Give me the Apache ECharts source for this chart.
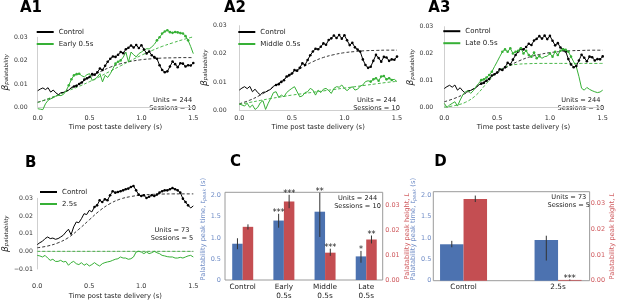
<!DOCTYPE html>
<html>
<head>
<meta charset="utf-8">
<script src="https://cdn.jsdelivr.net/npm/echarts@6/dist/echarts.min.js"></script>
<style>
  html, body { margin: 0; padding: 0; background: #fff; }
  #chart { width: 617px; height: 301px; }
</style>
</head>
<body>
<div id="chart"></div>
<script>
// time points of the beta traces (s)
const time = [0, 0.025, 0.05, 0.075, 0.1, 0.125, 0.15, 0.175, 0.2, 0.225, 0.25, 0.275, 0.3, 0.325, 0.35, 0.375,
  0.4, 0.425, 0.45, 0.475, 0.5, 0.525, 0.55, 0.575, 0.6, 0.625, 0.65, 0.675, 0.7, 0.725, 0.75, 0.775,
  0.8, 0.825, 0.85, 0.875, 0.9, 0.925, 0.95, 0.975, 1.0, 1.025, 1.05, 1.075, 1.1, 1.125, 1.15, 1.175,
  1.2, 1.225, 1.25, 1.275, 1.3, 1.325, 1.35, 1.375, 1.4, 1.425, 1.45, 1.475, 1.5]
const fitTime = [0, 0.1, 0.2, 0.3, 0.4, 0.5, 0.6, 0.7, 0.8, 0.9, 1.0, 1.1, 1.2, 1.3, 1.4, 1.5]

const controlA = [0.0071, 0.0078, 0.0083, 0.0076, 0.0084, 0.0065, 0.0074, 0.0062, 0.0054, 0.0063, 0.0064, 0.0069, 0.0074, 0.0085, 0.0089, 0.0092,
  0.0100, 0.0106, 0.0119, 0.0124, 0.0130, 0.0142, 0.0140, 0.0150, 0.0166, 0.0160, 0.0178, 0.0195, 0.0208, 0.0218, 0.0216, 0.0225,
  0.0237, 0.0232, 0.0249, 0.0255, 0.0265, 0.0256, 0.0267, 0.0254, 0.0266, 0.0248, 0.0231, 0.0239, 0.0223, 0.0215, 0.0208, 0.0180,
  0.0160, 0.0150, 0.0154, 0.0175, 0.0196, 0.0185, 0.0172, 0.0189, 0.0187, 0.0175, 0.0180, 0.0179, 0.0190]
const early = [-0.0006, -0.0008, -0.0010, 0.0015, 0.0030, 0.0036, 0.0041, 0.0048, 0.0051, 0.0050, 0.0056, 0.0072, 0.0094, 0.0120, 0.0137, 0.0142,
  0.0144, 0.0135, 0.0130, 0.0140, 0.0144, 0.0116, 0.0119, 0.0130, 0.0144, 0.0109, 0.0137, 0.0128, 0.0144, 0.0165, 0.0187, 0.0195,
  0.0201, 0.0215, 0.0237, 0.0194, 0.0237, 0.0225, 0.0216, 0.0230, 0.0237, 0.0245, 0.0251, 0.0250, 0.0259, 0.0270, 0.0287, 0.0300,
  0.0316, 0.0325, 0.0330, 0.0322, 0.0319, 0.0323, 0.0321, 0.0318, 0.0316, 0.0305, 0.0287, 0.0260, 0.0230]
const middle = [0.0021, 0.0018, 0.0014, 0.0024, 0.0009, 0.0018, 0.0002, 0.0009, 0.0026, 0.0033, 0.0002, 0.0024, 0.0042, 0.0062, 0.0065, 0.0045,
  0.0053, 0.0047, 0.0062, 0.0070, 0.0077, 0.0083, 0.0065, 0.0047, 0.0050, 0.0062, 0.0065, 0.0077, 0.0071, 0.0053, 0.0071, 0.0062,
  0.0074, 0.0077, 0.0069, 0.0059, 0.0077, 0.0083, 0.0081, 0.0089, 0.0077, 0.0069, 0.0077, 0.0083, 0.0071, 0.0074, 0.0085, 0.0089,
  0.0101, 0.0104, 0.0101, 0.0109, 0.0113, 0.0104, 0.0119, 0.0121, 0.0109, 0.0113, 0.0107, 0.0109, 0.0101]
const late = [0.0016, 0.0001, 0.0010, 0.0016, 0.0022, 0.0006, 0.0028, 0.0047, 0.0059, 0.0063, 0.0053, 0.0063, 0.0078, 0.0090, 0.0102, 0.0105,
  0.0112, 0.0121, 0.0133, 0.0152, 0.0170, 0.0189, 0.0207, 0.0216, 0.0207, 0.0220, 0.0201, 0.0207, 0.0211, 0.0220, 0.0201, 0.0211,
  0.0195, 0.0189, 0.0204, 0.0183, 0.0191, 0.0183, 0.0189, 0.0191, 0.0201, 0.0189, 0.0207, 0.0195, 0.0211, 0.0216, 0.0214, 0.0207,
  0.0189, 0.0170, 0.0152, 0.0115, 0.0072, 0.0065, 0.0075, 0.0068, 0.0063, 0.0059, 0.0056, 0.0058, 0.0065]
const controlB = [0.0038, 0.0049, 0.0057, 0.0072, 0.0081, 0.0072, 0.0075, 0.0068, 0.0072, 0.0081, 0.0091, 0.0109, 0.0125, 0.0094, 0.0138, 0.0166,
  0.0162, 0.0185, 0.0213, 0.0208, 0.0232, 0.0223, 0.0251, 0.0260, 0.0289, 0.0279, 0.0294, 0.0289, 0.0317, 0.0340, 0.0332, 0.0336,
  0.0340, 0.0345, 0.0351, 0.0355, 0.0364, 0.0370, 0.0345, 0.0321, 0.0313, 0.0317, 0.0302, 0.0309, 0.0317, 0.0313, 0.0321, 0.0332,
  0.0340, 0.0345, 0.0345, 0.0351, 0.0358, 0.0351, 0.0345, 0.0332, 0.0298, 0.0279, 0.0260, 0.0245, 0.0257]
const opto25 = [-0.0023, -0.0026, -0.0032, -0.0023, -0.0038, -0.0051, -0.0045, -0.0057, -0.0057, -0.0051, -0.0060, -0.0057, -0.0079, -0.0064, -0.0057, -0.0070,
  -0.0075, -0.0064, -0.0079, -0.0070, -0.0083, -0.0075, -0.0064, -0.0075, -0.0083, -0.0070, -0.0064, -0.0060, -0.0057, -0.0051, -0.0045, -0.0042,
  -0.0032, -0.0038, -0.0038, -0.0045, -0.0042, -0.0032, -0.0004, 0.0000, -0.0004, -0.0013, -0.0004, -0.0013, -0.0008, 0.0000, -0.0008, -0.0013,
  -0.0023, -0.0026, -0.0030, -0.0032, -0.0032, -0.0038, -0.0038, -0.0034, -0.0038, -0.0032, -0.0026, -0.0023, -0.0032]

// fitted curves (dashed)
const fitControlA = [0.0022, 0.0035, 0.0053, 0.0076, 0.0102, 0.0128, 0.0152, 0.0172, 0.0187, 0.0197, 0.0204, 0.0208, 0.0211, 0.0212, 0.0213, 0.0213]
const fitEarly = [0.0020, 0.0037, 0.0054, 0.0072, 0.0090, 0.0110, 0.0132, 0.0155, 0.0178, 0.0201, 0.0223, 0.0243, 0.0261, 0.0276, 0.0290, 0.0302]
const fitMiddle = [0.0020, 0.0027, 0.0034, 0.0041, 0.0047, 0.0053, 0.0058, 0.0063, 0.0068, 0.0073, 0.0078, 0.0083, 0.0088, 0.0093, 0.0098, 0.0102]
const fitLate = [0.0002, 0.0008, 0.0020, 0.0046, 0.0090, 0.0132, 0.0154, 0.0161, 0.0163, 0.0164, 0.0164, 0.0164, 0.0164, 0.0164, 0.0164, 0.0164]
const fitControlB = [0.0020, 0.0030, 0.0048, 0.0078, 0.0125, 0.0178, 0.0230, 0.0270, 0.0296, 0.0310, 0.0318, 0.0322, 0.0324, 0.0325, 0.0325, 0.0325]
const fit25 = [0, 0, 0, 0, 0, 0, 0, 0, 0, 0, 0, 0, 0, 0, 0, 0]

// time windows where the trace carries point markers
const marksControlA = [[0.35, 1.5]]
const marksEarly = [[0.3, 0.4], [0.75, 0.8], [1.15, 1.45]]
const marksMiddle = [[1.25, 1.45]]
const marksLate = [[0.35, 0.45], [0.55, 0.9], [1.0, 1.2]]
const marksControlB = [[0.55, 1.45]]

// panel C
const cCats = ['Control', 'Early\n0.5s', 'Middle\n0.5s', 'Late\n0.5s']
const cPeakTime = [0.86, 1.41, 1.62, 0.56]
const cPeakTimeLo = [0.73, 1.24, 1.02, 0.41]
const cPeakTimeHi = [0.99, 1.57, 2.07, 0.69]
const cPeakHeight = [0.0214, 0.0316, 0.0110, 0.0163]
const cPeakHeightLo = [0.0203, 0.0289, 0.0097, 0.0147]
const cPeakHeightHi = [0.0224, 0.0343, 0.0126, 0.0179]
const cStarsTime = ['', '***', '**', '*']
const cStarsHeight = ['', '***', '***', '**']

// panel D
const dCats = ['Control', '2.5s']
const dPeakTime = [0.85, 0.95]
const dPeakTimeLo = [0.78, 0.47]
const dPeakTimeHi = [0.93, 1.05]
const dPeakHeight = [0.0317, 0.0003]
const dPeakHeightLo = [0.0305, 0.0001]
const dPeakHeightHi = [0.0330, 0.0005]
const dStarsTime = ['', '']
const dStarsHeight = ['', '***']

const FONT = 'DejaVu Sans'
const GREEN = '#36b036'
const BLUE = '#4c72b0'
const RED = '#c44e52'
const BLUE_TXT = '#6f8cc6'
const RED_TXT = '#cf5a5e'

function pts(ys, marks) {
  return ys.map((y, i) => {
    const t = time[i]
    const on = marks.some(w => t >= w[0] - 1e-9 && t <= w[1] + 1e-9)
    return { value: [t, y], symbolSize: on ? 2.6 : 0 }
  })
}

function trace(name, gi, ys, color, marks) {
  return {
    name, type: 'line', xAxisIndex: gi, yAxisIndex: gi,
    data: pts(ys, marks),
    symbol: 'circle', showSymbol: true, showAllSymbol: true,
    lineStyle: { color, width: 1 }, itemStyle: { color },
    clip: false, z: 3
  }
}

function fit(gi, ys, color) {
  return {
    type: 'line', xAxisIndex: gi, yAxisIndex: gi,
    data: fitTime.map((t, i) => [t, ys[i]]),
    smooth: 0.4, symbol: 'none', showSymbol: false,
    lineStyle: { color, width: 0.9, type: [3, 2] },
    clip: false, silent: true, z: 2
  }
}

function timeAxis(gi, offset, margin, gap) {
  return {
    type: 'value', gridIndex: gi, min: 0, max: 1.5, interval: 0.5, offset,
    axisLine: { show: true, lineStyle: { color: '#cfcfcf' } },
    axisTick: { show: false }, splitLine: { show: false },
    axisLabel: { fontFamily: FONT, fontSize: 6.5, color: '#333', margin, formatter: v => v.toFixed(1) },
    name: 'Time post taste delivery (s)', nameLocation: 'middle', nameGap: gap,
    nameTextStyle: { fontFamily: FONT, fontSize: 6.8, color: '#222' }
  }
}

function betaAxis(gi, min, max, offset, gap) {
  return {
    type: 'value', gridIndex: gi, min, max, interval: 0.01, offset,
    axisLine: { show: true, lineStyle: { color: '#cfcfcf' } },
    axisTick: { show: false }, splitLine: { show: false },
    axisLabel: { fontFamily: FONT, fontSize: 6.2, color: '#333', margin: 2,
      formatter: v => v.toFixed(2).replace('-', '\u2212') },
    name: '{b|β}{s|palatability}', nameLocation: 'middle', nameGap: gap, nameRotate: 90,
    nameTextStyle: {
      rich: {
        b: { fontFamily: FONT, fontSize: 9, fontStyle: 'italic', color: '#222' },
        s: { fontFamily: FONT, fontSize: 5.5, fontStyle: 'italic', color: '#222', padding: [3, 0, 0, 0] }
      }
    }
  }
}

function catAxis(gi, cats, min, max) {
  return {
    type: 'value', gridIndex: gi, min, max,
    axisLine: { show: false }, axisTick: { show: false }, splitLine: { show: false },
    axisLabel: {
      customValues: cats.map((c, i) => i),
      fontFamily: FONT, fontSize: 7.3, lineHeight: 9.5, color: '#222', margin: 2,
      formatter: v => cats[Math.round(v)] || ''
    }
  }
}

function peakTimeAxis(gi, max, gap, margin) {
  return {
    type: 'value', gridIndex: gi, position: 'left', min: 0, max,
    axisLine: { show: false }, axisTick: { show: false }, splitLine: { show: false },
    axisLabel: {
      customValues: [0, 0.5, 1, 1.5, 2], fontFamily: FONT, fontSize: 6.5, color: BLUE_TXT, margin,
      formatter: v => (v === 0 ? '0' : v.toFixed(1))
    },
    name: '{n|Palatability peak time, }{i|t}{s|peak}{n| (s)}', nameLocation: 'middle', nameGap: gap, nameRotate: 90,
    nameTextStyle: {
      padding: [0, 0, 0, 14],
      rich: {
        n: { fontFamily: FONT, fontSize: 6.7, color: BLUE_TXT },
        i: { fontFamily: FONT, fontSize: 6.7, fontStyle: 'italic', color: BLUE_TXT },
        s: { fontFamily: FONT, fontSize: 5, fontStyle: 'italic', color: BLUE_TXT, padding: [2, 0, 0, 0] }
      }
    }
  }
}

function peakHeightAxis(gi, max, gap, margin) {
  return {
    type: 'value', gridIndex: gi, position: 'right', min: 0, max,
    axisLine: { show: false }, axisTick: { show: false }, splitLine: { show: false },
    axisLabel: {
      customValues: [0, 0.01, 0.02, 0.03], fontFamily: FONT, fontSize: 6.5, color: RED_TXT, margin,
      formatter: v => v.toFixed(2)
    },
    name: '{n|Palatability peak height, }{i|L}', nameLocation: 'middle', nameGap: gap, nameRotate: 90,
    nameTextStyle: {
      rich: {
        n: { fontFamily: FONT, fontSize: 6.7, color: RED_TXT },
        i: { fontFamily: FONT, fontSize: 6.7, fontStyle: 'italic', color: RED_TXT }
      }
    }
  }
}

function bars(xi, yi, vals, color, w) {
  return {
    type: 'bar', xAxisIndex: xi, yAxisIndex: yi,
    data: vals.map((v, i) => [i, v]),
    barWidth: w, barGap: '0%', itemStyle: { color }, z: 2
  }
}

function errs(xi, yi, lo, hi, stars, side, w) {
  return {
    type: 'custom', xAxisIndex: xi, yAxisIndex: yi, clip: false, z: 5,
    data: lo.map((v, i) => [i, v, hi[i]]),
    renderItem(params, api) {
      const x = api.value(0)
      const a = api.coord([x, api.value(1)])
      const b = api.coord([x, api.value(2)])
      const cx = a[0] + side * w / 2
      return {
        type: 'group',
        children: [
          { type: 'line', shape: { x1: cx, y1: a[1], x2: cx, y2: b[1] }, style: { stroke: '#333', lineWidth: 1 } },
          { type: 'text', style: { text: stars[params.dataIndex], x: cx, y: b[1] + 3.5, align: 'center', verticalAlign: 'bottom',
            fontFamily: FONT, fontSize: 8, fill: '#222' } }
        ]
      }
    }
  }
}

function legend(left, top, names) {
  return {
    left, top, orient: 'vertical', icon: 'rect', itemWidth: 17, itemHeight: 2, itemGap: 5,
    selectedMode: false, data: names,
    textStyle: { fontFamily: FONT, fontSize: 7, color: '#222' }
  }
}

function label(x, y, text) {
  return { type: 'text', x, y, style: { text, fontFamily: FONT, fontWeight: 'bold', fontSize: 15, fill: '#000', align: 'left', verticalAlign: 'middle' } }
}

function units(x, y, text) {
  return { type: 'text', x, y, style: { text, fontFamily: FONT, fontSize: 6.6, lineHeight: 8.3, fill: '#222', align: 'center', verticalAlign: 'middle' } }
}

const chart = echarts.init(document.getElementById('chart'), null, { renderer: 'canvas' })

chart.setOption({
  animation: false,
  backgroundColor: '#fff',
  grid: [
    { left: 35, top: 37.3, width: 158.3, height: 70 },
    { left: 239.3, top: 25.7, width: 157.7, height: 84.3 },
    { left: 444.3, top: 26.7, width: 158.4, height: 81 },
    { left: 36.7, top: 198.3, width: 156.6, height: 70.7 },
    { left: 225, top: 192.3, width: 157.7, height: 88.7, show: true, borderColor: '#9a9a9a', borderWidth: 1 },
    { left: 433.3, top: 191.7, width: 160, height: 89, show: true, borderColor: '#9a9a9a', borderWidth: 1 }
  ],
  xAxis: [
    timeAxis(0, 6.7, 1, 10),
    timeAxis(1, 4, 1, 10),
    timeAxis(2, 6.3, 1, 10),
    timeAxis(3, 3.3, 11, 20),
    catAxis(4, cCats, -0.43, 3.4),
    catAxis(5, dCats, -0.32, 1.334)
  ],
  yAxis: [
    betaAxis(0, 0, 0.03, 8, 13),
    betaAxis(1, 0, 0.03, 10.6, 11),
    betaAxis(2, 0, 0.03, 9, 14),
    betaAxis(3, -0.01, 0.03, 2.4, 19),
    peakTimeAxis(4, 2.08, 13, 4),
    peakHeightAxis(4, 0.0353, 12.5, 2.5),
    peakTimeAxis(5, 2.077, 13.5, 2),
    peakHeightAxis(5, 0.0345, 12, 1)
  ],
  legend: [
    legend(31.7, 23.5, ['Control', 'Early 0.5s']),
    legend(233.3, 23.5, ['Control', 'Middle 0.5s']),
    legend(438.3, 22.7, ['Control', 'Late 0.5s']),
    legend(35, 183.5, ['Control', '2.5s'])
  ],
  graphic: [
    label(20, 8, 'A1'),
    label(224, 8, 'A2'),
    label(428.3, 8, 'A3'),
    label(25, 163, 'B'),
    label(230, 162, 'C'),
    label(434.3, 161.7, 'D'),
    units(172.5, 104.2, 'Units = 244\nSessions = 10'),
    units(376.5, 104.2, 'Units = 244\nSessions = 10'),
    units(580.8, 104.2, 'Units = 244\nSessions = 10'),
    units(172, 234.2, 'Units = 73\nSessions = 5'),
    units(357.5, 202, 'Units = 244\nSessions = 10'),
    units(568.8, 201.4, 'Units = 73\nSessions = 5')
  ],
  series: [
    fit(0, fitControlA, '#222'),
    fit(0, fitEarly, GREEN),
    trace('Control', 0, controlA, '#000', marksControlA),
    trace('Early 0.5s', 0, early, GREEN, marksEarly),

    fit(1, fitControlA, '#222'),
    fit(1, fitMiddle, GREEN),
    trace('Control', 1, controlA, '#000', marksControlA),
    trace('Middle 0.5s', 1, middle, GREEN, marksMiddle),

    fit(2, fitControlA, '#222'),
    fit(2, fitLate, GREEN),
    trace('Control', 2, controlA, '#000', marksControlA),
    trace('Late 0.5s', 2, late, GREEN, marksLate),

    fit(3, fitControlB, '#222'),
    fit(3, fit25, GREEN),
    trace('Control', 3, controlB, '#000', marksControlB),
    trace('2.5s', 3, opto25, GREEN, []),

    bars(4, 4, cPeakTime, BLUE, 10.5),
    bars(4, 5, cPeakHeight, RED, 10.5),
    errs(4, 4, cPeakTimeLo, cPeakTimeHi, cStarsTime, -1, 10.5),
    errs(4, 5, cPeakHeightLo, cPeakHeightHi, cStarsHeight, 1, 10.5),

    bars(5, 6, dPeakTime, BLUE, 23.5),
    bars(5, 7, dPeakHeight, RED, 23.5),
    errs(5, 6, dPeakTimeLo, dPeakTimeHi, dStarsTime, -1, 23.5),
    errs(5, 7, dPeakHeightLo, dPeakHeightHi, dStarsHeight, 1, 23.5)
  ]
})
</script>
</body>
</html>
